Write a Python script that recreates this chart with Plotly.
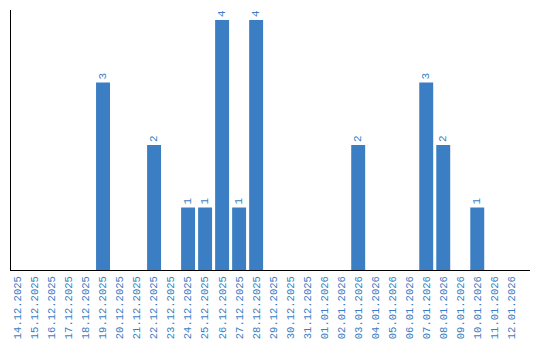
import plotly.graph_objects as go

dates = ["14.12.2025", "15.12.2025", "16.12.2025", "17.12.2025", "18.12.2025",
         "19.12.2025", "20.12.2025", "21.12.2025", "22.12.2025", "23.12.2025",
         "24.12.2025", "25.12.2025", "26.12.2025", "27.12.2025", "28.12.2025",
         "29.12.2025", "30.12.2025", "31.12.2025", "01.01.2026", "02.01.2026",
         "03.01.2026", "04.01.2026", "05.01.2026", "06.01.2026", "07.01.2026",
         "08.01.2026", "09.01.2026", "10.01.2026", "11.01.2026", "12.01.2026"]
counts = [0, 0, 0, 0, 0, 3, 0, 0, 2, 0, 1, 1, 4, 1, 4,
          0, 0, 0, 0, 0, 2, 0, 0, 0, 3, 2, 0, 1, 0, 0]

labels = [str(v) if v > 0 else "" for v in counts]
blue = "#3b7ec3"
mono = "Liberation Mono"

fig = go.Figure(go.Bar(
    x=dates, y=counts, text=labels, textposition="outside", textangle=-90,
    textfont=dict(family=mono, size=11, color=blue),
    marker=dict(color=blue, line=dict(width=0)), cliponaxis=False,
))
fig.update_layout(
    width=540, height=340, margin=dict(l=11, r=10, t=10, b=70, autoexpand=False),
    paper_bgcolor="white", plot_bgcolor="white", bargap=0.18,
    showlegend=False,
    font=dict(family=mono, size=10.5, color=blue),
)
fig.update_xaxes(type="category", range=[-0.41, 30.1], tickangle=-90,
                 automargin=False, ticklabelstandoff=1,
                 showline=True, linecolor="black", linewidth=1, ticks="",
                 showgrid=False, tickfont=dict(family=mono, size=10.5, color=blue))
fig.update_yaxes(range=[0, 4.16], showline=True, linecolor="black", linewidth=1,
                 automargin=False,
                 showticklabels=False, ticks="", showgrid=False, zeroline=False)
fig.write_html("out.html")
